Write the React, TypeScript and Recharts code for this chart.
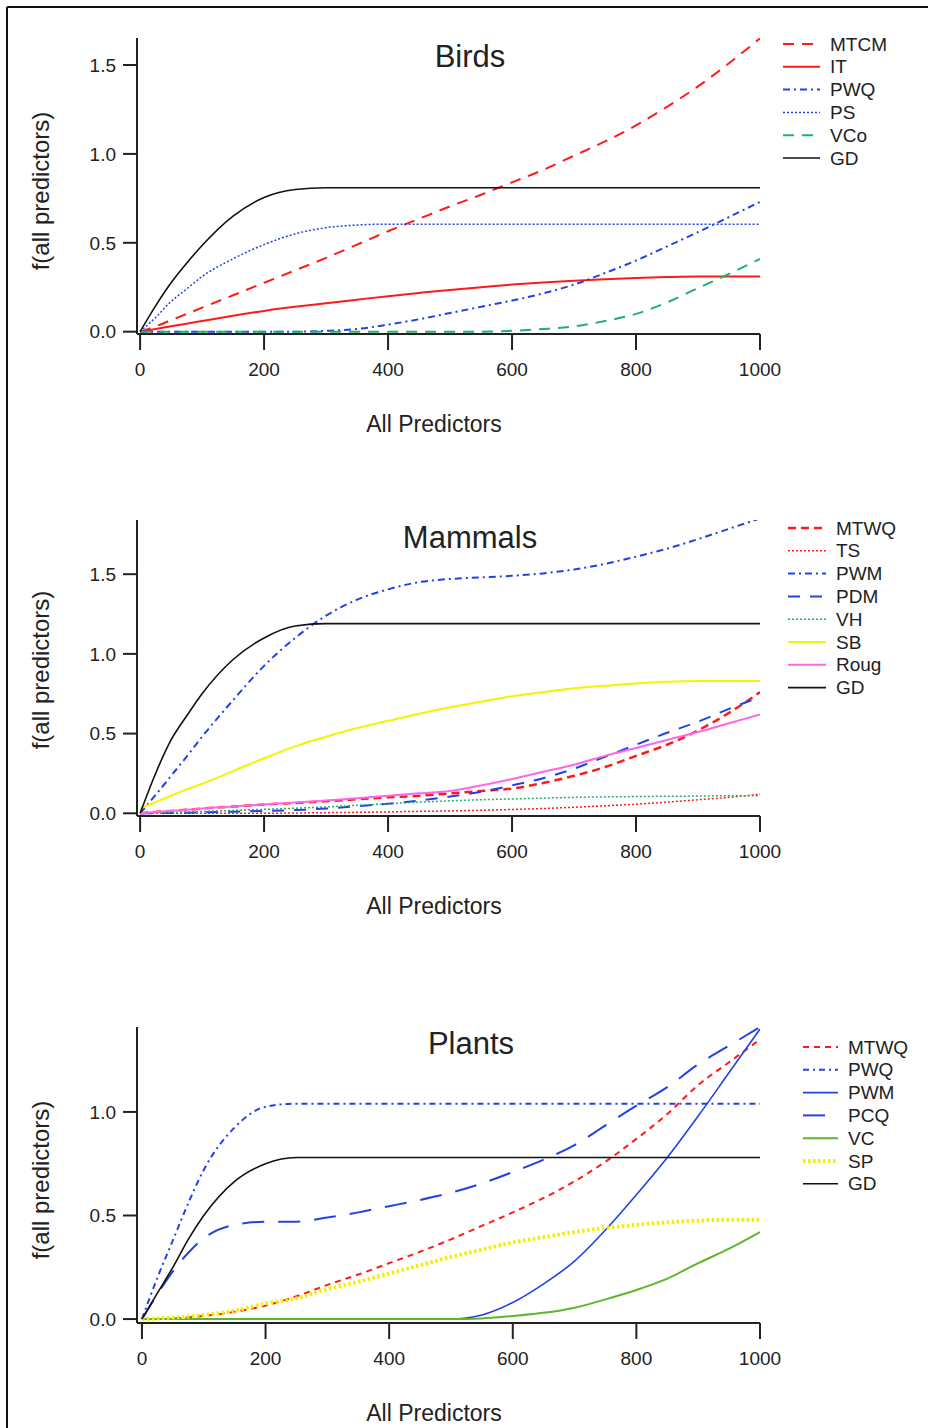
import { Line, LineChart, XAxis, YAxis } from "recharts";

const FONT = "'Liberation Sans', Arial, Helvetica, sans-serif";
const INK = "#222";

// shared x grid for all three panels
const xGrid = [0, 25, 50, 75, 100, 150, 200, 250, 300, 350, 400, 450, 500, 550, 600, 650, 700, 750, 800, 850, 900, 950, 1000];
const xTicks = [0, 200, 400, 600, 800, 1000];

// Birds
const birdsMTCM = [0, 0.03, 0.065, 0.1, 0.135, 0.205, 0.275, 0.345, 0.415, 0.49, 0.565, 0.635, 0.705, 0.77, 0.84, 0.91, 0.99, 1.07, 1.16, 1.265, 1.38, 1.51, 1.65];
const birdsIT = [0, 0.015, 0.03, 0.045, 0.06, 0.09, 0.117, 0.14, 0.16, 0.18, 0.2, 0.218, 0.235, 0.25, 0.265, 0.277, 0.287, 0.295, 0.302, 0.307, 0.31, 0.31, 0.31];
const birdsPWQ = [0, 0, 0, 0, 0, 0, 0, 0, 0.005, 0.015, 0.04, 0.07, 0.105, 0.14, 0.175, 0.215, 0.265, 0.33, 0.4, 0.48, 0.56, 0.645, 0.73];
const birdsPS = [0, 0.08, 0.17, 0.24, 0.31, 0.41, 0.49, 0.55, 0.585, 0.6, 0.605, 0.605, 0.605, 0.605, 0.605, 0.605, 0.605, 0.605, 0.605, 0.605, 0.605, 0.605, 0.605];
const birdsVCo = [0, 0, 0, 0, 0, 0, 0, 0, 0, 0, 0, 0, 0, 0, 0.005, 0.015, 0.03, 0.06, 0.1, 0.165, 0.245, 0.325, 0.41];
const birdsGD = [0, 0.145, 0.275, 0.385, 0.485, 0.65, 0.755, 0.8, 0.81, 0.81, 0.81, 0.81, 0.81, 0.81, 0.81, 0.81, 0.81, 0.81, 0.81, 0.81, 0.81, 0.81, 0.81];

// Mammals
const mamMTWQ = [0, 0.008, 0.015, 0.022, 0.03, 0.042, 0.055, 0.065, 0.075, 0.088, 0.1, 0.11, 0.125, 0.14, 0.155, 0.19, 0.235, 0.29, 0.36, 0.43, 0.52, 0.63, 0.76];
const mamTS = [0, 0, 0, 0, 0, 0, 0, 0.002, 0.004, 0.006, 0.009, 0.012, 0.015, 0.019, 0.024, 0.03, 0.038, 0.047, 0.057, 0.07, 0.085, 0.1, 0.12];
const mamPWM = [0, 0.115, 0.235, 0.355, 0.48, 0.71, 0.925, 1.1, 1.24, 1.34, 1.405, 1.45, 1.47, 1.48, 1.49, 1.505, 1.53, 1.565, 1.61, 1.66, 1.72, 1.785, 1.85];
const mamPDM = [0, 0, 0.002, 0.004, 0.006, 0.01, 0.015, 0.02, 0.03, 0.045, 0.06, 0.08, 0.105, 0.135, 0.175, 0.22, 0.28, 0.355, 0.43, 0.505, 0.575, 0.655, 0.73];
const mamVH = [0, 0.002, 0.005, 0.008, 0.011, 0.018, 0.025, 0.032, 0.04, 0.05, 0.06, 0.07, 0.078, 0.085, 0.09, 0.095, 0.1, 0.103, 0.105, 0.107, 0.108, 0.11, 0.11];
const mamSB = [0.03, 0.07, 0.11, 0.15, 0.185, 0.265, 0.345, 0.42, 0.48, 0.535, 0.58, 0.625, 0.665, 0.7, 0.735, 0.76, 0.785, 0.8, 0.815, 0.825, 0.83, 0.83, 0.83];
const mamRoug = [0, 0.008, 0.015, 0.022, 0.03, 0.042, 0.055, 0.068, 0.08, 0.095, 0.11, 0.125, 0.14, 0.175, 0.215, 0.26, 0.305, 0.36, 0.41, 0.46, 0.51, 0.565, 0.62];
const mamGD = [0, 0.25, 0.46, 0.61, 0.75, 0.965, 1.1, 1.175, 1.19, 1.19, 1.19, 1.19, 1.19, 1.19, 1.19, 1.19, 1.19, 1.19, 1.19, 1.19, 1.19, 1.19, 1.19];

// Plants
const plaMTWQ = [0, 0, 0.003, 0.008, 0.015, 0.035, 0.065, 0.11, 0.165, 0.215, 0.27, 0.325, 0.385, 0.45, 0.515, 0.585, 0.665, 0.76, 0.87, 0.99, 1.13, 1.24, 1.35];
const plaPWQ = [0, 0.2, 0.38, 0.56, 0.72, 0.925, 1.025, 1.04, 1.04, 1.04, 1.04, 1.04, 1.04, 1.04, 1.04, 1.04, 1.04, 1.04, 1.04, 1.04, 1.04, 1.04, 1.04];
const plaPWM = [0, 0, 0, 0, 0, 0, 0, 0, 0, 0, 0, 0, 0, 0.02, 0.08, 0.17, 0.28, 0.43, 0.6, 0.78, 0.98, 1.19, 1.4];
const plaPCQ = [0, 0.12, 0.23, 0.32, 0.39, 0.455, 0.47, 0.47, 0.49, 0.515, 0.545, 0.575, 0.61, 0.655, 0.71, 0.77, 0.84, 0.935, 1.03, 1.12, 1.23, 1.32, 1.41];
const plaVC = [0, 0, 0, 0, 0, 0, 0, 0, 0, 0, 0, 0, 0, 0.003, 0.015, 0.03, 0.055, 0.095, 0.14, 0.195, 0.27, 0.34, 0.42];
const plaSP = [0, 0.003, 0.007, 0.012, 0.02, 0.04, 0.075, 0.1, 0.145, 0.18, 0.22, 0.26, 0.3, 0.335, 0.37, 0.395, 0.42, 0.44, 0.455, 0.467, 0.475, 0.48, 0.48];
const plaGD = [0, 0.125, 0.25, 0.385, 0.5, 0.665, 0.75, 0.78, 0.78, 0.78, 0.78, 0.78, 0.78, 0.78, 0.78, 0.78, 0.78, 0.78, 0.78, 0.78, 0.78, 0.78, 0.78];

const RED = "#ff1a1a";
const BLUE = "#2342e6";
const BLACK = "#111";

type Series = { name: string; values: number[]; color: string; width: number; dash?: string };

const birdsSeries: Series[] = [
  { name: "MTCM", values: birdsMTCM, color: RED, width: 2, dash: "11 8" },
  { name: "IT", values: birdsIT, color: RED, width: 2 },
  { name: "PWQ", values: birdsPWQ, color: BLUE, width: 2, dash: "7 4 2 4" },
  { name: "PS", values: birdsPS, color: BLUE, width: 1.5, dash: "2 2" },
  { name: "VCo", values: birdsVCo, color: "#1fb06e", width: 2, dash: "11 8" },
  { name: "GD", values: birdsGD, color: BLACK, width: 1.6 },
];

const mammalSeries: Series[] = [
  { name: "MTWQ", values: mamMTWQ, color: RED, width: 2.5, dash: "8 5" },
  { name: "TS", values: mamTS, color: RED, width: 1.5, dash: "2 2" },
  { name: "PWM", values: mamPWM, color: BLUE, width: 2, dash: "7 4 2 4" },
  { name: "PDM", values: mamPDM, color: BLUE, width: 2, dash: "12 10" },
  { name: "VH", values: mamVH, color: "#1fb06e", width: 1.5, dash: "2 2" },
  { name: "SB", values: mamSB, color: "#f4f400", width: 2 },
  { name: "Roug", values: mamRoug, color: "#ff66e6", width: 2 },
  { name: "GD", values: mamGD, color: BLACK, width: 1.6 },
];

const plantSeries: Series[] = [
  { name: "MTWQ", values: plaMTWQ, color: RED, width: 2, dash: "6 5" },
  { name: "PWQ", values: plaPWQ, color: BLUE, width: 2, dash: "6 4 2 4" },
  { name: "PWM", values: plaPWM, color: BLUE, width: 1.6 },
  { name: "PCQ", values: plaPCQ, color: BLUE, width: 2, dash: "22 14" },
  { name: "VC", values: plaVC, color: "#5cb82a", width: 2 },
  { name: "SP", values: plaSP, color: "#f6ee00", width: 4, dash: "2.5 2.5" },
  { name: "GD", values: plaGD, color: BLACK, width: 1.6 },
];

type PanelSpec = {
  title: string;
  series: Series[];
  plotTop: number;
  xDomain: [number, number];
  yDomain: [number, number];
  yTicks: number[];
  titleX: number;
  titleY: number;
  yLabelY: number;
  xLabelY: number;
  legendX: number;
  legendY: number;
  legendLen: number;
};

const panels: PanelSpec[] = [
  {
    title: "Birds", series: birdsSeries, plotTop: 38, xDomain: [-5, 1000], yDomain: [-0.013, 1.652],
    yTicks: [0, 0.5, 1, 1.5], titleX: 470, titleY: 56, yLabelY: 191, xLabelY: 424,
    legendX: 783, legendY: 44, legendLen: 37,
  },
  {
    title: "Mammals", series: mammalSeries, plotTop: 520, xDomain: [-5, 1000], yDomain: [-0.017, 1.84],
    yTicks: [0, 0.5, 1, 1.5], titleX: 470, titleY: 537, yLabelY: 670, xLabelY: 906,
    legendX: 788, legendY: 528, legendLen: 38,
  },
  {
    title: "Plants", series: plantSeries, plotTop: 1027, xDomain: [-8, 1000], yDomain: [-0.019, 1.41],
    yTicks: [0, 0.5, 1], titleX: 471, titleY: 1043, yLabelY: 1180, xLabelY: 1413,
    legendX: 803, legendY: 1047, legendLen: 35,
  },
];

function Panel({ spec }: { spec: PanelSpec }) {
  const rows = xGrid.map((x, i) => {
    const r: Record<string, number> = { x };
    spec.series.forEach(s => (r[s.name] = s.values[i]));
    return r;
  });
  const tickStyle = { fill: INK, fontSize: 19, fontFamily: FONT };
  return (
    <div style={{ position: "absolute", left: 0, top: spec.plotTop - 10 }}>
      <LineChart width={928} height={356} data={rows} margin={{ top: 10, right: 168, bottom: 0, left: 0 }}>
        <XAxis
          dataKey="x"
          type="number"
          domain={spec.xDomain}
          ticks={xTicks}
          allowDataOverflow
          interval={0}
          height={50}
          tickSize={16}
          tickMargin={13}
          axisLine={{ stroke: INK, strokeWidth: 2 }}
          tickLine={{ stroke: INK, strokeWidth: 2 }}
          tick={tickStyle}
        />
        <YAxis
          type="number"
          domain={spec.yDomain}
          ticks={spec.yTicks}
          allowDataOverflow
          interval={0}
          width={137}
          tickSize={14}
          tickMargin={7}
          tickFormatter={(v: number) => v.toFixed(1)}
          axisLine={{ stroke: INK, strokeWidth: 2 }}
          tickLine={{ stroke: INK, strokeWidth: 2 }}
          tick={tickStyle}
        />
        {spec.series.map(s => (
          <Line
            key={s.name}
            type="monotone"
            dataKey={s.name}
            stroke={s.color}
            strokeWidth={s.width}
            strokeDasharray={s.dash}
            dot={false}
            activeDot={false}
            isAnimationActive={false}
          />
        ))}
      </LineChart>
    </div>
  );
}

export default function App() {
  return (
    <div style={{ position: "absolute", left: 0, top: 0, width: 928, height: 1428, background: "#fff", fontFamily: FONT }}>
      {panels.map(p => (
        <Panel key={p.title} spec={p} />
      ))}
      <svg width={928} height={1428} style={{ position: "absolute", left: 0, top: 0, pointerEvents: "none" }}>
        <line x1={7} y1={7} x2={928} y2={7} stroke={BLACK} strokeWidth={2} />
        <line x1={7} y1={7} x2={7} y2={1428} stroke={BLACK} strokeWidth={2} />
        {panels.map(p => (
          <g key={p.title} fontFamily={FONT} fill={INK}>
            <text x={p.titleX} y={p.titleY} fontSize={31} textAnchor="middle" dominantBaseline="central">
              {p.title}
            </text>
            <text x={434} y={p.xLabelY} fontSize={23} textAnchor="middle" dominantBaseline="central">
              All Predictors
            </text>
            <text
              x={40}
              y={p.yLabelY}
              fontSize={24}
              textAnchor="middle"
              dominantBaseline="central"
              transform={`rotate(-90 40 ${p.yLabelY})`}
            >
              f(all predictors)
            </text>
            {p.series.map((s, i) => {
              const cy = p.legendY + i * 22.8;
              return (
                <g key={s.name}>
                  <line
                    x1={p.legendX}
                    x2={p.legendX + p.legendLen}
                    y1={cy}
                    y2={cy}
                    stroke={s.color}
                    strokeWidth={s.width}
                    strokeDasharray={s.dash}
                  />
                  <text x={p.legendX + p.legendLen + 10} y={cy} fontSize={19} dominantBaseline="central">
                    {s.name}
                  </text>
                </g>
              );
            })}
          </g>
        ))}
      </svg>
    </div>
  );
}
